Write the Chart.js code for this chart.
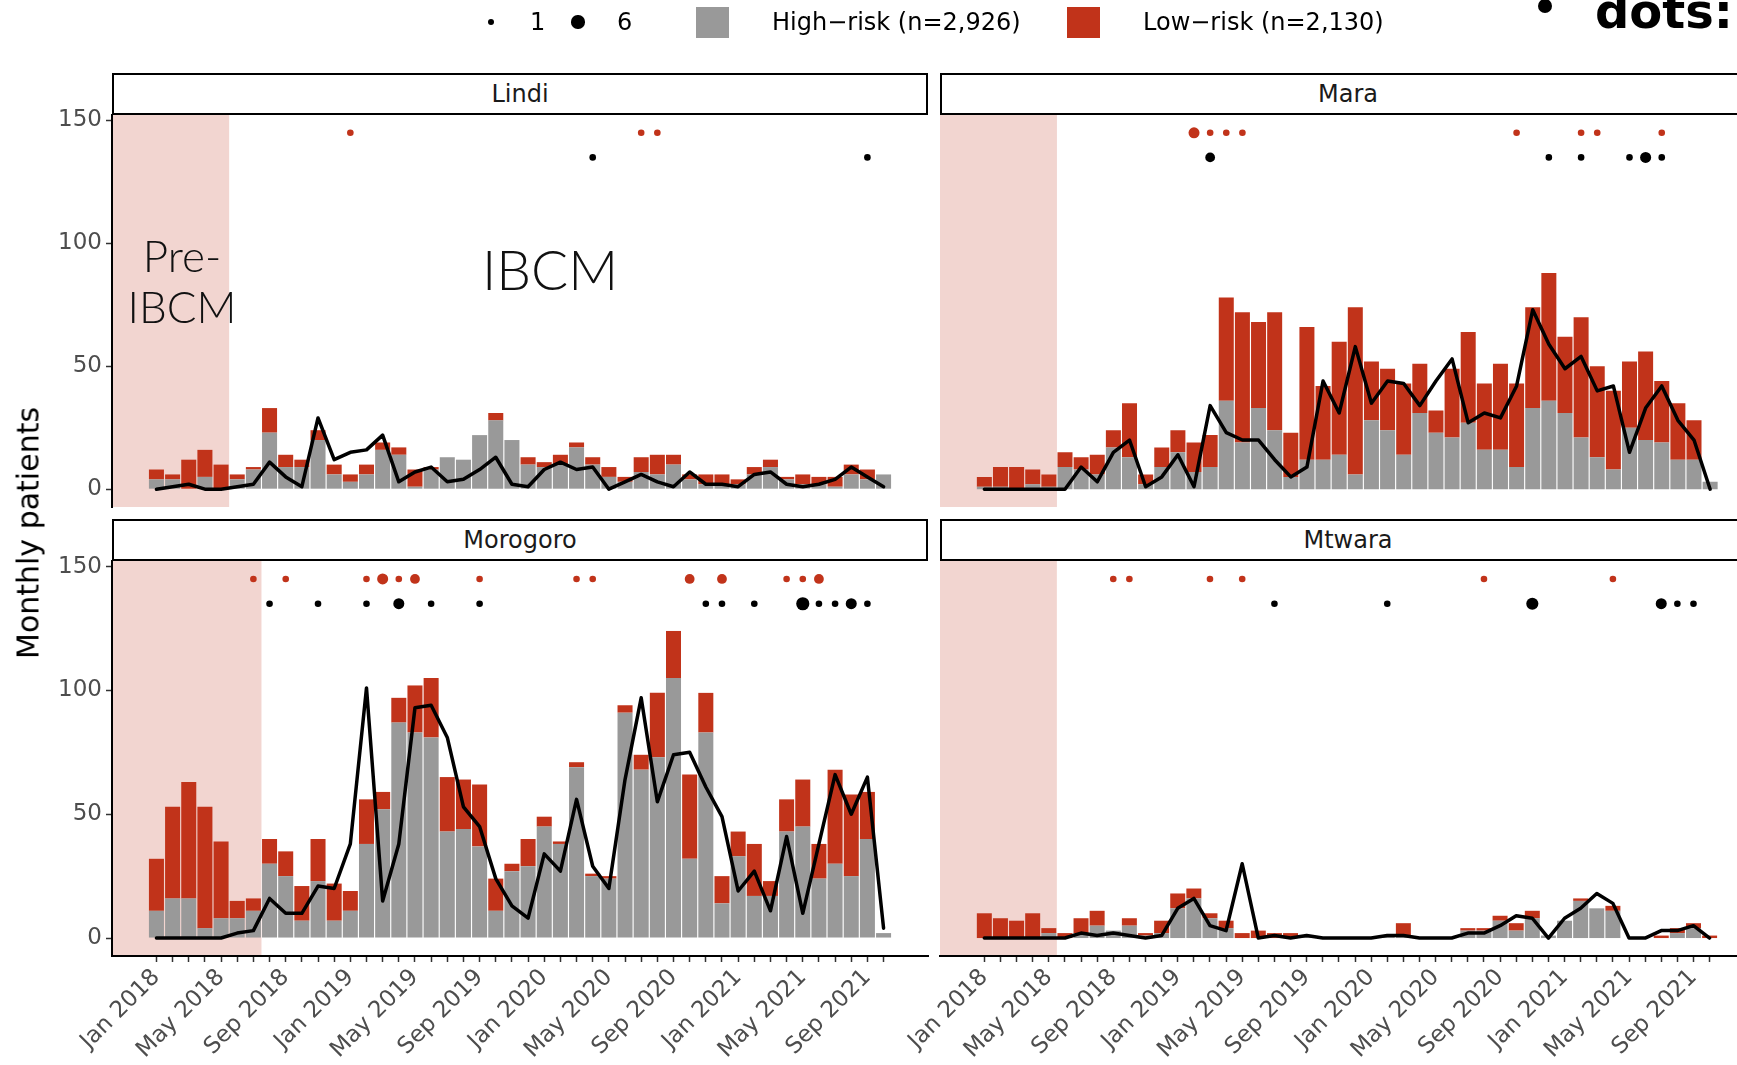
<!DOCTYPE html>
<html>
<head>
<meta charset="utf-8">
<script src="https://cdn.jsdelivr.net/npm/chart.js@4.4.1/dist/chart.umd.min.js"></script>
<style>
  html, body { margin: 0; padding: 0; background: #fff; overflow: hidden; }
  #page { position: relative; width: 1760px; height: 1065px; font-family: 'DejaVu Sans', sans-serif; }
  canvas { position: absolute; left: 0; top: 0; }
  .strip { position: absolute; box-sizing: border-box; width: 816px; height: 42px; border: 2px solid #000;
           background: #fff; text-align: center; font-size: 24px; line-height: 38px; color: #1a1a1a; }
  .legend-text { position: absolute; top: 7px; line-height: 30px; font-size: 24px; color: #000; white-space: nowrap; }
  .key { position: absolute; top: 7px; width: 33px; height: 31px; }
  .dot { position: absolute; border-radius: 50%; background: #000; }
  .note { position: absolute; font-family: Lato, 'Open Sans', sans-serif; font-weight: 300; color: #111; text-align: center; }
</style>
</head>
<body>
<div id="page">
  <canvas id="c-lindi" width="1760" height="1065"></canvas>
  <canvas id="c-mara" width="1760" height="1065"></canvas>
  <canvas id="c-morogoro" width="1760" height="1065"></canvas>
  <canvas id="c-mtwara" width="1760" height="1065"></canvas>

  <div class="strip" style="left:112px; top:73px;">Lindi</div>
  <div class="strip" style="left:940px; top:73px;">Mara</div>
  <div class="strip" style="left:112px; top:519px;">Morogoro</div>
  <div class="strip" style="left:940px; top:519px;">Mtwara</div>

  <div style="position:absolute; left:28px; top:533px; transform:translate(-50%,-50%) rotate(-90deg);
              font-size:30px; color:#000; white-space:nowrap;">Monthly patients</div>

  <div id="legend"></div>

  <div class="note" style="left:82px; top:230px; width:200px; font-size:44px; line-height:51px;">Pre-<br>IBCM</div>
  <div class="note" style="left:450px; top:236px; width:200px; font-size:55px; line-height:66px;">IBCM</div>

  <div class="dot" style="left:1538px; top:-1px; width:14px; height:14px;"></div>
  <div style="position:absolute; left:1595px; top:-11px; font-size:48px; line-height:44px; font-weight:bold; color:#000; white-space:nowrap;">dots:</div>
</div>

<script>
// month index 0 = Jan 2018 ... 45 = Oct 2021
const tickLabels = ['Jan 2018', 'May 2018', 'Sep 2018', 'Jan 2019', 'May 2019', 'Sep 2019',
                    'Jan 2020', 'May 2020', 'Sep 2020', 'Jan 2021', 'May 2021', 'Sep 2021'];
const monthCount = 46;
const yTicks = [0, 50, 100, 150];

// high-risk (grey) and low-risk (red) monthly patients, black line
const lindiHigh = [4, 4, 0, 5, 0, 4, 8, 23, 9, 9, 20, 6, 3, 6, 16, 14, 1, 8, 13, 12, 22, 28, 20, 10, 9, 10, 17, 10, 5, 3, 7, 6, 10, 4, 2, 2, 2, 6, 9, 4, 2, 2, 1, 6, 4, 6];
const lindiLow  = [4, 2, 12, 11, 10, 2, 1, 10, 5, 3, 4, 4, 3, 4, 3, 3, 7, 1, 0, 0, 0, 3, 0, 3, 2, 4, 2, 3, 4, 2, 6, 8, 4, 2, 4, 4, 2, 3, 3, 1, 4, 3, 4, 4, 4, 0];
const lindiLine = [0, 1, 2, 0, 0, 1, 2, 11, 5, 1, 29, 12, 15, 16, 22, 3, 7, 9, 3, 4, 8, 13, 2, 1, 8, 11, 8, 9, 0, 3, 6, 3, 1, 7, 2, 2, 1, 6, 7, 2, 1, 2, 4, 9, 5, 1];

const maraHigh = [1, 1, 0, 2, 1, 9, 8, 6, 17, 13, 2, 9, 15, 7, 9, 36, 19, 33, 24, 5, 12, 12, 14, 6, 28, 24, 14, 31, 23, 21, 27, 16, 16, 9, 33, 36, 31, 21, 13, 8, 25, 20, 19, 12, 12, 3];
const maraLow  = [4, 8, 9, 6, 5, 6, 5, 8, 7, 22, 4, 8, 9, 12, 13, 42, 53, 35, 48, 18, 54, 30, 46, 68, 24, 25, 29, 20, 9, 28, 37, 27, 35, 34, 41, 52, 31, 49, 37, 32, 27, 36, 25, 23, 16, 0];
const maraLine = [0, 0, 0, 0, 0, 0, 9, 3, 15, 20, 1, 5, 14, 1, 34, 23, 20, 20, 12, 5, 9, 44, 31, 58, 35, 44, 43, 34, 44, 53, 27, 31, 29, 42, 73, 59, 49, 54, 40, 42, 15, 33, 42, 28, 20, 0];

const morogoroHigh = [11, 16, 16, 4, 8, 8, 11, 30, 25, 7, 23, 7, 11, 38, 52, 87, 83, 81, 43, 44, 37, 11, 27, 29, 45, 38, 69, 25, 24, 91, 68, 73, 105, 32, 83, 14, 33, 17, 17, 43, 45, 24, 30, 25, 40, 2];
const morogoroLow  = [21, 37, 47, 49, 31, 7, 5, 10, 10, 14, 17, 15, 8, 18, 7, 10, 19, 24, 22, 20, 25, 13, 3, 11, 4, 1, 2, 1, 1, 3, 6, 26, 19, 34, 16, 11, 10, 21, 6, 13, 19, 14, 38, 33, 19, 0];
const morogoroLine = [0, 0, 0, 0, 0, 2, 3, 16, 10, 10, 21, 20, 38, 101, 15, 38, 93, 94, 81, 53, 45, 24, 13, 8, 34, 27, 56, 29, 20, 64, 97, 55, 74, 75, 61, 49, 19, 27, 11, 41, 10, 38, 66, 50, 65, 4];

const mtwaraHigh = [0, 0, 0, 0, 2, 0, 2, 5, 3, 5, 1, 2, 12, 16, 8, 4, 0, 0, 0, 0, 1, 0, 0, 0, 0, 1, 1, 0, 0, 0, 3, 3, 7, 3, 8, 1, 7, 15, 12, 11, 0, 0, 0, 2, 4, 0];
const mtwaraLow  = [10, 8, 7, 10, 2, 2, 6, 6, 0, 3, 1, 5, 6, 4, 2, 3, 2, 3, 2, 2, 0, 0, 0, 0, 0, 0, 5, 0, 0, 0, 1, 1, 2, 3, 3, 0, 0, 1, 0, 2, 0, 0, 1, 2, 2, 1];
const mtwaraLine = [0, 0, 0, 0, 0, 0, 2, 1, 2, 1, 0, 1, 12, 16, 5, 3, 30, 0, 1, 0, 1, 0, 0, 0, 0, 1, 1, 0, 0, 0, 2, 2, 5, 9, 8, 0, 8, 12, 18, 14, 0, 0, 3, 3, 5, 0];

// dot rows: month index and count (size legend 1..6)
const lindiRedAt = [12, 30, 31];           const lindiRedN = [1, 1, 1];
const lindiBlackAt = [27, 44];             const lindiBlackN = [1, 1];
const maraRedAt = [13, 14, 15, 16, 33, 37, 38, 42]; const maraRedN = [4, 1, 1, 1, 1, 1, 1, 1];
const maraBlackAt = [14, 35, 37, 40, 41, 42];       const maraBlackN = [3, 1, 1, 1, 4, 1];
const morogoroRedAt = [6, 8, 13, 14, 15, 16, 20, 26, 27, 33, 35, 39, 40, 41];
const morogoroRedN  = [1, 1, 1, 4, 1, 3, 1, 1, 1, 3, 3, 1, 1, 3];
const morogoroBlackAt = [7, 10, 13, 15, 17, 20, 34, 35, 37, 40, 41, 42, 43, 44];
const morogoroBlackN  = [1, 1, 1, 4, 1, 1, 1, 1, 1, 6, 1, 1, 4, 1];
const mtwaraRedAt = [8, 9, 14, 16, 31, 39]; const mtwaraRedN = [1, 1, 1, 1, 1, 1];
const mtwaraBlackAt = [18, 25, 34, 42, 43, 44]; const mtwaraBlackN = [1, 1, 5, 4, 1, 1];

const redRowY = 145;
const blackRowY = 135;
const preIbcmEnd = [4.5, 4.5, 6.5, 4.5]; // Lindi, Mara, Morogoro, Mtwara

const RED = '#C1331A';
const GREY = '#999999';
const PINK = '#F2D5D0';
const PAGE_W = 1760, PAGE_H = 1065;

Chart.defaults.font.family = "'DejaVu Sans', sans-serif";

function dotRadius(n) {
  return Math.sqrt(4.4 + 6.5 * n);
}

// legend
const legend = document.getElementById('legend');
function addDot(cx, cy, n) {
  const r = dotRadius(n);
  const d = document.createElement('div');
  d.className = 'dot';
  d.style.cssText = `left:${cx - r}px; top:${cy - r}px; width:${2 * r}px; height:${2 * r}px;`;
  legend.appendChild(d);
}
function addText(x, txt) {
  const t = document.createElement('div');
  t.className = 'legend-text';
  t.style.left = x + 'px';
  t.textContent = txt;
  legend.appendChild(t);
}
function addKey(x, color) {
  const k = document.createElement('div');
  k.className = 'key';
  k.style.left = x + 'px';
  k.style.background = color;
  legend.appendChild(k);
}
addDot(491, 22, 1); addText(530, '1');
addDot(578, 22, 6); addText(617, '6');
addKey(696, GREY); addText(772, 'High\u2212risk (n=2,926)');
addKey(1067, RED); addText(1143, 'Low\u2212risk (n=2,130)');

const preIbcmShade = {
  id: 'preIbcmShade',
  beforeDraw(chart, args, opts) {
    const { ctx, chartArea, scales } = chart;
    const xEnd = scales.x.getPixelForValue(opts.end);
    ctx.save();
    ctx.fillStyle = PINK;
    ctx.fillRect(chartArea.left, chartArea.top, xEnd - chartArea.left, chartArea.bottom - chartArea.top);
    ctx.restore();
  }
};

function buildPanel(p) {
  const yAxisW = p.showY ? 112 : 0;
  const xAxisH = p.showX ? PAGE_H - p.box.bottom : 0;
  const xy = arr => arr.map((v, i) => ({ x: i, y: v }));

  new Chart(document.getElementById(p.id), {
    type: 'bar',
    data: {
      datasets: [
        {
          type: 'line', data: xy(p.line), borderColor: '#000', borderWidth: 3.5,
          pointRadius: 0, tension: 0, stack: 'line', order: 0,
          borderJoinStyle: 'round', borderCapStyle: 'round'
        },
        {
          type: 'scatter', data: p.redAt.map(m => ({ x: m, y: redRowY })),
          pointRadius: ctx => dotRadius(p.redN[ctx.dataIndex]),
          backgroundColor: RED, borderWidth: 0, stack: 'red', order: 1
        },
        {
          type: 'scatter', data: p.blackAt.map(m => ({ x: m, y: blackRowY })),
          pointRadius: ctx => dotRadius(p.blackN[ctx.dataIndex]),
          backgroundColor: '#000', borderWidth: 0, stack: 'black', order: 1
        },
        {
          data: xy(p.high), backgroundColor: GREY, stack: 'risk', order: 2,
          categoryPercentage: 0.93, barPercentage: 1
        },
        {
          data: xy(p.low), backgroundColor: RED, stack: 'risk', order: 3,
          categoryPercentage: 0.93, barPercentage: 1
        }
      ]
    },
    options: {
      responsive: false,
      animation: false,
      events: [],
      devicePixelRatio: 1,
      layout: {
        padding: {
          left: p.box.left - yAxisW,
          top: p.box.top,
          right: PAGE_W - p.box.right,
          bottom: PAGE_H - p.box.bottom - xAxisH
        }
      },
      plugins: {
        legend: { display: false },
        tooltip: { enabled: false },
        preIbcmShade: { end: p.preEnd }
      },
      scales: {
        x: {
          type: 'linear', display: p.showX, stacked: true, offset: false, bounds: 'data',
          min: -2.75, max: 47.75,
          afterBuildTicks: s => { s.ticks = Array.from({ length: monthCount }, (_, i) => ({ value: i })); },
          afterFit: s => { s.height = xAxisH; s.paddingLeft = 0; s.paddingRight = 0; },
          grid: { offset: false, drawOnChartArea: false, drawTicks: true, tickLength: 6, tickColor: '#333', tickWidth: 1.5 },
          border: { display: true, color: '#000', width: 2 },
          ticks: {
            autoSkip: false, maxRotation: 45, minRotation: 45, padding: 2,
            color: '#4d4d4d', font: { size: 23 },
            callback: v => (v % 4 === 0 ? tickLabels[v / 4] : '')
          }
        },
        y: {
          display: p.showY, stacked: true, bounds: 'data',
          min: -7.25, max: 152.25,
          afterBuildTicks: s => { s.ticks = yTicks.map(v => ({ value: v })); },
          afterFit: s => { s.width = yAxisW; s.paddingTop = 0; s.paddingBottom = 0; },
          grid: { drawOnChartArea: false, drawTicks: true, tickLength: 6, tickColor: '#333', tickWidth: 1.5 },
          border: { display: true, color: '#000', width: 2 },
          ticks: { color: '#4d4d4d', font: { size: 23 }, padding: 4 }
        }
      }
    },
    plugins: [preIbcmShade]
  });
}

const panels = [
  { id: 'c-lindi', high: lindiHigh, low: lindiLow, line: lindiLine,
    redAt: lindiRedAt, redN: lindiRedN, blackAt: lindiBlackAt, blackN: lindiBlackN,
    preEnd: preIbcmEnd[0], box: { left: 112, top: 115, right: 928, bottom: 507 }, showY: true, showX: false },
  { id: 'c-mara', high: maraHigh, low: maraLow, line: maraLine,
    redAt: maraRedAt, redN: maraRedN, blackAt: maraBlackAt, blackN: maraBlackN,
    preEnd: preIbcmEnd[1], box: { left: 940, top: 115, right: 1756, bottom: 507 }, showY: false, showX: false },
  { id: 'c-morogoro', high: morogoroHigh, low: morogoroLow, line: morogoroLine,
    redAt: morogoroRedAt, redN: morogoroRedN, blackAt: morogoroBlackAt, blackN: morogoroBlackN,
    preEnd: preIbcmEnd[2], box: { left: 112, top: 561, right: 928, bottom: 956 }, showY: true, showX: true },
  { id: 'c-mtwara', high: mtwaraHigh, low: mtwaraLow, line: mtwaraLine,
    redAt: mtwaraRedAt, redN: mtwaraRedN, blackAt: mtwaraBlackAt, blackN: mtwaraBlackN,
    preEnd: preIbcmEnd[3], box: { left: 940, top: 561, right: 1756, bottom: 956 }, showY: false, showX: true }
];

panels.forEach(buildPanel);
</script>
</body>
</html>
